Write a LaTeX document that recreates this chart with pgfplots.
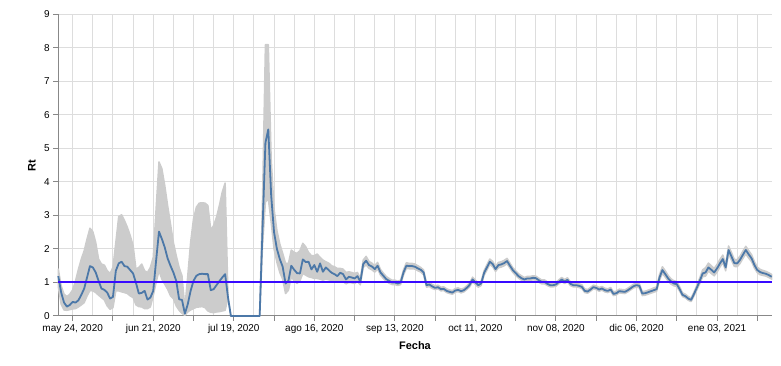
\documentclass[border=0pt]{standalone}
\usepackage{pgfplots}
\pgfplotsset{compat=1.18}
\usepackage{pgfplotstable}
\usepgfplotslibrary{fillbetween}
\usepackage{fontspec}
\setmainfont{Liberation Sans}
\definecolor{linecol}{HTML}{4C78A8}
\definecolor{bandcol}{HTML}{CCCCCC}
\definecolor{gridcol}{HTML}{DDDDDD}
\definecolor{axcol}{HTML}{888888}
\definecolor{refcol}{rgb}{0.22,0.04,1.0}
% day 0 = 2020-05-24
\pgfplotstableread{
d r lo hi
-5 1.19 0.87 1.40
-4 0.70 0.35 0.90
-3 0.40 0.18 0.65
-2 0.28 0.17 0.58
-1 0.33 0.19 0.65
0 0.42 0.21 0.78
1 0.40 0.22 1.05
2 0.47 0.27 1.40
3 0.63 0.33 1.70
4 0.82 0.40 1.95
5 1.15 0.60 2.30
6 1.49 0.76 2.62
7 1.45 0.75 2.52
8 1.30 0.70 2.20
9 1.05 0.62 1.70
10 0.82 0.55 1.55
11 0.78 0.48 1.52
12 0.70 0.30 1.35
13 0.52 0.20 1.27
14 0.57 0.25 1.45
15 1.35 0.75 2.20
16 1.57 0.75 2.97
17 1.62 0.72 3.02
18 1.49 0.70 2.85
19 1.47 0.67 2.65
20 1.37 0.60 2.40
21 1.27 0.55 2.10
22 0.99 0.33 1.40
23 0.67 0.28 1.45
24 0.69 0.27 1.55
25 0.75 0.22 1.35
26 0.49 0.22 1.30
27 0.55 0.27 1.45
28 0.75 0.60 1.75
29 1.65 1.00 3.20
30 2.52 1.35 4.60
31 2.30 1.10 4.40
32 2.05 0.95 3.90
33 1.72 0.80 3.30
34 1.50 0.60 2.75
35 1.30 0.52 2.20
36 1.05 0.30 1.80
37 0.50 0.17 1.45
38 0.48 0.08 1.20
39 0.07 0.02 0.25
40 0.35 0.12 1.20
41 0.75 0.18 2.20
42 1.05 0.22 2.90
43 1.20 0.26 3.25
44 1.25 0.27 3.37
45 1.26 0.28 3.38
46 1.25 0.25 3.37
47 1.25 0.15 3.30
48 0.77 0.11 2.57
49 0.80 0.10 2.70
50 0.92 0.12 2.95
51 1.04 0.13 3.30
52 1.15 0.15 3.70
53 1.25 0.17 3.97
54 0.55 0.55 0.55
55 0 0 0
56 0 0 0
57 0 0 0
58 0 0 0
59 0 0 0
60 0 0 0
61 0 0 0
62 0 0 0
63 0 0 0
64 0 0 0
65 0 0 0
66 2.60 2.10 3.50
67 5.17 3.40 8.10
68 5.57 3.50 8.10
69 3.60 2.80 4.70
70 2.50 2.00 3.20
71 2.00 1.60 2.55
72 1.70 1.30 2.15
73 1.47 1.10 1.87
74 0.97 0.67 1.57
75 1.05 0.77 1.57
76 1.50 1.17 1.97
77 1.38 1.05 1.90
78 1.28 0.97 1.87
79 1.27 1.05 1.95
80 1.69 1.27 2.17
81 1.61 1.22 2.07
82 1.62 1.17 1.90
83 1.39 1.15 1.80
84 1.52 1.12 1.80
85 1.32 1.12 1.85
86 1.57 1.10 1.75
87 1.32 1.07 1.67
88 1.45 1.10 1.62
89 1.37 1.08 1.58
90 1.29 1.06 1.50
91 1.25 1.04 1.47
92 1.19 1.02 1.42
93 1.29 1.05 1.42
94 1.25 1.03 1.40
95 1.09 0.96 1.30
96 1.17 1.00 1.32
97 1.15 0.99 1.30
98 1.12 0.97 1.27
99 1.19 1.03 1.30
100 1.02 0.93 1.12
101 1.55 1.45 1.67
102 1.65 1.53 1.78
103 1.52 1.42 1.63
104 1.48 1.38 1.58
105 1.40 1.31 1.50
106 1.50 1.40 1.60
107 1.30 1.22 1.39
108 1.20 1.12 1.28
109 1.10 1.03 1.18
110 1.05 0.98 1.12
111 1.00 0.94 1.07
112 1.00 0.94 1.07
113 0.97 0.91 1.04
114 1.00 0.94 1.07
115 1.30 1.22 1.38
116 1.50 1.42 1.59
117 1.49 1.41 1.57
118 1.49 1.41 1.57
119 1.47 1.40 1.55
120 1.42 1.35 1.50
121 1.38 1.31 1.45
122 1.30 1.23 1.37
123 0.92 0.86 0.98
124 0.94 0.88 1.00
125 0.88 0.82 0.94
126 0.84 0.79 0.90
127 0.86 0.81 0.92
128 0.80 0.75 0.86
129 0.81 0.76 0.87
130 0.75 0.70 0.81
131 0.72 0.67 0.78
132 0.70 0.65 0.76
133 0.76 0.71 0.82
134 0.78 0.73 0.84
135 0.74 0.69 0.80
136 0.77 0.72 0.83
137 0.84 0.79 0.90
138 0.93 0.87 0.99
139 1.09 1.02 1.16
140 1.00 0.94 1.07
141 0.92 0.86 0.98
142 0.97 0.91 1.04
143 1.28 1.21 1.35
144 1.45 1.37 1.53
145 1.62 1.54 1.70
146 1.55 1.47 1.63
147 1.40 1.33 1.48
148 1.52 1.44 1.60
149 1.54 1.46 1.62
150 1.58 1.50 1.66
151 1.64 1.56 1.72
152 1.50 1.43 1.58
153 1.37 1.30 1.44
154 1.28 1.21 1.35
155 1.19 1.13 1.26
156 1.13 1.07 1.20
157 1.09 1.03 1.15
158 1.12 1.06 1.18
159 1.12 1.06 1.18
160 1.14 1.08 1.20
161 1.13 1.07 1.19
162 1.07 1.01 1.13
163 1.02 0.96 1.08
164 1.02 0.96 1.08
165 0.96 0.91 1.02
166 0.92 0.87 0.98
167 0.92 0.87 0.98
168 0.94 0.89 1.00
169 1.02 0.96 1.08
170 1.09 1.03 1.15
171 1.03 0.97 1.09
172 1.08 1.02 1.14
173 0.96 0.91 1.02
174 0.92 0.87 0.98
175 0.92 0.87 0.98
176 0.90 0.85 0.96
177 0.87 0.82 0.93
178 0.75 0.70 0.81
179 0.73 0.68 0.79
180 0.79 0.74 0.85
181 0.86 0.81 0.92
182 0.84 0.79 0.90
183 0.79 0.74 0.85
184 0.82 0.77 0.88
185 0.77 0.72 0.83
186 0.75 0.70 0.81
187 0.79 0.74 0.85
188 0.66 0.61 0.72
189 0.68 0.63 0.74
190 0.74 0.69 0.80
191 0.73 0.68 0.79
192 0.72 0.67 0.78
193 0.77 0.72 0.83
194 0.83 0.78 0.89
195 0.89 0.84 0.95
196 0.92 0.86 0.98
197 0.90 0.84 0.96
198 0.67 0.61 0.73
199 0.68 0.62 0.74
200 0.71 0.65 0.77
201 0.74 0.68 0.80
202 0.77 0.71 0.84
203 0.80 0.74 0.87
204 1.15 1.07 1.24
205 1.37 1.27 1.47
206 1.25 1.16 1.35
207 1.12 1.04 1.21
208 1.03 0.95 1.11
209 0.97 0.90 1.05
210 0.95 0.88 1.03
211 0.80 0.74 0.87
212 0.63 0.58 0.69
213 0.59 0.54 0.65
214 0.52 0.47 0.58
215 0.48 0.43 0.54
216 0.66 0.60 0.72
217 0.85 0.78 0.92
218 1.05 0.97 1.14
219 1.27 1.17 1.38
220 1.30 1.19 1.44
221 1.45 1.34 1.58
222 1.38 1.27 1.50
223 1.30 1.20 1.42
224 1.42 1.31 1.54
225 1.57 1.46 1.69
226 1.70 1.59 1.82
227 1.45 1.35 1.56
228 1.97 1.85 2.09
229 1.78 1.67 1.90
230 1.58 1.48 1.69
231 1.57 1.47 1.68
232 1.68 1.57 1.79
233 1.83 1.72 1.94
234 1.97 1.85 2.08
235 1.84 1.73 1.95
236 1.72 1.62 1.83
237 1.52 1.43 1.62
238 1.37 1.29 1.46
239 1.31 1.23 1.39
240 1.28 1.21 1.36
241 1.26 1.19 1.33
242 1.22 1.15 1.29
243 1.17 1.10 1.24
}\rtdata
\begin{document}
\begin{tikzpicture}
\begin{axis}[
  scale only axis,
  width=713.4bp, height=301.5bp,
  xmin=-5, xmax=243, ymin=0, ymax=9,
  clip=false,
  axis lines*=left,
  axis line style={axcol, line width=1bp, -},
  tick align=outside,
  major tick length=5bp,
  minor tick length=0bp,
  tick style={axcol, line width=1bp},
  xtick={0,14,...,238},
  xticklabels={{may 24, 2020},{},{jun 21, 2020},{},{jul 19, 2020},{},{ago 16, 2020},{},{sep 13, 2020},{},{oct 11, 2020},{},{nov 08, 2020},{},{dic 06, 2020},{},{ene 03, 2021},{}},
  minor xtick={7,21,...,231},
  ytick={0,1,...,9},
  grid=both,
  major grid style={gridcol, line width=1bp},
  minor grid style={gridcol, line width=1bp},
  /pgf/number format/assume math mode=true,
  ticklabel style={font=\fontsize{10}{12}\selectfont, text=black},
  xlabel={Fecha}, ylabel={Rt},
  xlabel style={font=\bfseries\fontsize{11}{13}\selectfont, at={(axis description cs:0.5,-0.0995)}, anchor=center},
  ylabel style={font=\bfseries\fontsize{11}{13}\selectfont, at={(axis description cs:-0.0369,0.5)}, anchor=center, rotate=0},
]
\addplot[name path=hi, draw=none] table[x=d, y=hi] {\rtdata};
\addplot[name path=lo, draw=none] table[x=d, y=lo] {\rtdata};
\addplot[fill=bandcol, draw=bandcol, line width=1.5bp, line join=round] fill between[of=hi and lo];
\addplot[linecol, line width=1.8bp, line join=round] table[x=d, y=r] {\rtdata};
\addplot[refcol, line width=2bp] coordinates {(-5,1) (243,1)};
\end{axis}
\pgfresetboundingbox
\path[use as bounding box] ([shift={(-58.3bp,-50bp)}]current axis.south west) rectangle ([shift={(9.3bp,14.5bp)}]current axis.north east);
\end{tikzpicture}
\end{document}
